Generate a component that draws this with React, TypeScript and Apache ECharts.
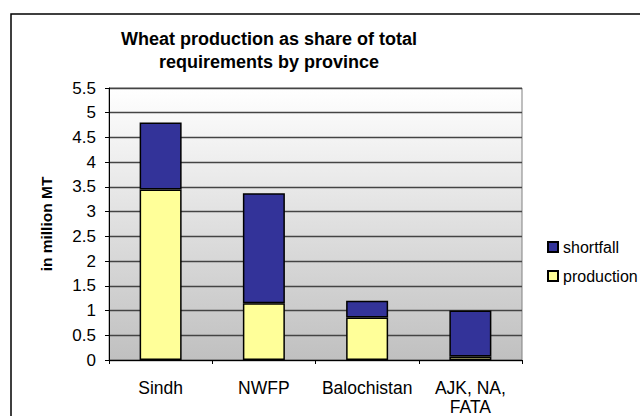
import React, { useEffect, useRef } from "react";
import * as echarts from "echarts";

const categories = ["Sindh", "NWFP", "Balochistan", "AJK, NA,\nFATA"];
const production = [3.45, 1.15, 0.86, 0.07];
const shortfall = [1.35, 2.22, 0.34, 0.93];
const yTicks = { min: 0, max: 5.5, interval: 0.5 };

const FONT = "Liberation Sans, Arial, sans-serif";

export default function App() {
  const ref = useRef<HTMLDivElement>(null);
  useEffect(() => {
    if (!ref.current) return;
    const chart = echarts.init(ref.current, null, { renderer: "svg" });
    chart.setOption({
      animation: false,
      textStyle: { fontFamily: FONT, color: "#000" },
      graphic: [
        {
          type: "rect",
          shape: { x: 11, y: 14, width: 700, height: 500 },
          style: { fill: "none", stroke: "#000", lineWidth: 1.5 },
          silent: true,
        },
        {
          type: "text",
          x: 269,
          y: 27,
          style: {
            text: "Wheat production as share of total\nrequirements by province",
            textAlign: "center",
            font: "bold 18px " + FONT,
            lineHeight: 23,
            fill: "#000",
          },
        },
      ],
      legend: {
        orient: "vertical",
        left: 542,
        top: 234,
        itemWidth: 10,
        itemHeight: 10,
        itemGap: 13,
        itemTextGap: 6,
        icon: "rect",
        data: ["shortfall", "production"],
        textStyle: { fontSize: 16, color: "#000", fontFamily: FONT },
      },
      grid: {
        left: 109,
        right: 118,
        top: 88,
        bottom: 54,
        show: true,
        borderColor: "#808080",
        borderWidth: 1,
        backgroundColor: new echarts.graphic.LinearGradient(0, 0, 0, 1, [
          { offset: 0, color: "#ffffff" },
          { offset: 1, color: "#c0c0c0" },
        ]),
      },
      xAxis: {
        type: "category",
        data: categories,
        axisLine: { lineStyle: { color: "#000", width: 1 } },
        axisTick: { show: true, length: 4, lineStyle: { color: "#000" } },
        axisLabel: {
          interval: 0,
          fontSize: 17.5,
          lineHeight: 19,
          margin: 18,
          color: "#000",
          fontFamily: FONT,
        },
      },
      yAxis: {
        type: "value",
        min: yTicks.min,
        max: yTicks.max,
        interval: yTicks.interval,
        name: "in million MT",
        nameLocation: "middle",
        nameRotate: 90,
        nameGap: 55,
        nameTextStyle: { fontSize: 15.5, fontWeight: "bold", color: "#000", fontFamily: FONT },
        axisLine: { show: true, lineStyle: { color: "#000", width: 1 } },
        axisTick: { show: true, length: 4, lineStyle: { color: "#000" } },
        axisLabel: { fontSize: 17, margin: 13, color: "#000", fontFamily: FONT },
        splitLine: { show: true, lineStyle: { color: "#444", width: 1.3 } },
      },
      series: [
        {
          name: "production",
          type: "bar",
          stack: "total",
          data: production,
          barWidth: 42,
          itemStyle: { color: "#ffff99", borderColor: "#000", borderWidth: 1.5 },
        },
        {
          name: "shortfall",
          type: "bar",
          stack: "total",
          data: shortfall,
          barWidth: 42,
          itemStyle: { color: "#333399", borderColor: "#000", borderWidth: 1.5 },
        },
      ],
    });
    return () => chart.dispose();
  }, []);
  return (
    <div
      ref={ref}
      style={{ position: "absolute", left: 0, top: 0, width: 640, height: 416 }}
    />
  );
}
